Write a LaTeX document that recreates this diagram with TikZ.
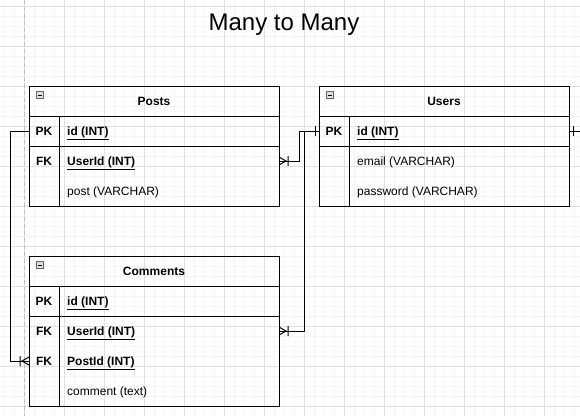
\documentclass[tikz,border=0pt]{standalone}
\usepackage{fontspec}
\setmainfont{Liberation Sans}
\usetikzlibrary{positioning, calc}
\definecolor{MinorGrid}{rgb}{0.955, 0.955, 0.955}
\definecolor{MajorGrid}{rgb}{0.88, 0.88, 0.88}
\definecolor{PageLine}{rgb}{0.75, 0.75, 0.75}
\newcommand{\keyf}[1]{\textbf{\underline{#1}}}
\newcommand{\cell}{\fontsize{12}{14}\selectfont}

\begin{document}
\begin{tikzpicture}[
    x=1pt, y=-1pt,
    font=\cell,
    tbl/.style={draw, line width=1pt, minimum width=250pt, inner sep=0pt,
        outer sep=0pt, anchor=north west},
    head/.style={draw, line width=1pt, minimum width=250pt, minimum height=30pt,
        inner sep=0pt, outer sep=0pt, anchor=north west, font=\cell\bfseries,
        text height=8.6pt, text depth=0pt},
    row/.style={minimum width=250pt, minimum height=30pt, inner sep=0pt,
        outer sep=0pt, anchor=north west},
    rule/.style={line width=1pt},
    keycol/.style={font=\cell\bfseries, inner sep=0pt, text height=8.6pt, text depth=0pt},
    field/.style={anchor=west, inner sep=0pt, text height=8.6pt, text depth=0pt},
    fold/.style={draw=black!60, fill=black!12, minimum size=7pt, inner sep=0pt},
    conn/.style={line width=1pt},
    crow/.pic={\draw[conn] (0,-4) -- (7,0) -- (0,4) (9,-5) -- (9,5);},
    onebar/.pic={\draw[conn] (4,-5) -- (4,5);}
]

% background and grid
\fill[white] (0,0) rectangle (580,416);
\useasboundingbox (0,0) rectangle (580,416);
\foreach \gx in {4,14,...,574} \draw[MinorGrid, line width=1pt] (\gx,0) -- (\gx,416);
\foreach \gy in {6,16,...,406} \draw[MinorGrid, line width=1pt] (0,\gy) -- (580,\gy);
\foreach \gx in {24,64,...,564} \draw[MajorGrid, line width=1pt] (\gx,0) -- (\gx,416);
\foreach \gy in {6,46,...,406} \draw[MajorGrid, line width=1pt] (0,\gy) -- (580,\gy);
\draw[PageLine, line width=1pt, dash pattern=on 4pt off 3pt] (24,0) -- (24,416);

\node[font=\fontsize{24}{28}\selectfont, anchor=base] (title) at (284,30) {Many to Many};

% Posts
\node[tbl, minimum height=120pt] (posts) at (29,86) {};
\node[head] (posts-h) at (29,86) {Posts};
\node[fold] at ([shift={(10.5pt,-9pt)}]posts-h.north west) {\rule{4pt}{0.8pt}};
\node[row] (posts-id) at (29,116) {};
\node[row] (posts-uid) at (29,146) {};
\node[row] (posts-txt) at (29,176) {};
\draw[rule] (posts-id.south west) -- (posts-id.south east);
\draw[rule] ([xshift=30pt]posts-id.north west) -- ([xshift=30pt]posts.south west);
\node[keycol] at ([xshift=15pt]posts-id.west) {PK};
\node[keycol] at ([xshift=15pt]posts-uid.west) {FK};
\node[field] at ([xshift=38pt]posts-id.west) {\keyf{id (INT)}};
\node[field] at ([xshift=38pt]posts-uid.west) {\keyf{UserId (INT)}};
\node[field] at ([xshift=38pt]posts-txt.west) {post (VARCHAR)};

% Users
\node[tbl, minimum height=120pt] (users) at (319,86) {};
\node[head] (users-h) at (319,86) {Users};
\node[fold] at ([shift={(10.5pt,-9pt)}]users-h.north west) {\rule{4pt}{0.8pt}};
\node[row] (users-id) at (319,116) {};
\node[row] (users-mail) at (319,146) {};
\node[row] (users-pw) at (319,176) {};
\draw[rule] (users-id.south west) -- (users-id.south east);
\draw[rule] ([xshift=30pt]users-id.north west) -- ([xshift=30pt]users.south west);
\node[keycol] at ([xshift=15pt]users-id.west) {PK};
\node[field] at ([xshift=38pt]users-id.west) {\keyf{id (INT)}};
\node[field] at ([xshift=38pt]users-mail.west) {email (VARCHAR)};
\node[field] at ([xshift=38pt]users-pw.west) {password (VARCHAR)};

% Comments
\node[tbl, minimum height=150pt] (comments) at (29,256) {};
\node[head] (comments-h) at (29,256) {Comments};
\node[fold] at ([shift={(10.5pt,-9pt)}]comments-h.north west) {\rule{4pt}{0.8pt}};
\node[row] (comments-id) at (29,286) {};
\node[row] (comments-uid) at (29,316) {};
\node[row] (comments-pid) at (29,346) {};
\node[row] (comments-txt) at (29,376) {};
\draw[rule] (comments-id.south west) -- (comments-id.south east);
\draw[rule] ([xshift=30pt]comments-id.north west) -- ([xshift=30pt]comments.south west);
\node[keycol] at ([xshift=15pt]comments-id.west) {PK};
\node[keycol] at ([xshift=15pt]comments-uid.west) {FK};
\node[keycol] at ([xshift=15pt]comments-pid.west) {FK};
\node[field] at ([xshift=38pt]comments-id.west) {\keyf{id (INT)}};
\node[field] at ([xshift=38pt]comments-uid.west) {\keyf{UserId (INT)}};
\node[field] at ([xshift=38pt]comments-pid.west) {\keyf{PostId (INT)}};
\node[field] at ([xshift=38pt]comments-txt.west) {comment (text)};

% relations
\coordinate (offpage) at (580,131);
\draw[conn] (posts-id.west) -- ++(-19,0) |- (comments-pid.west);
\pic[xscale=-1] at (comments-pid.west) {crow};
\draw[conn] (users-id.west) -- ++(-20,0) |- (posts-uid.east);
\pic at (posts-uid.east) {crow};
\draw[conn] (users-id.west) -- ++(-15,0) |- (comments-uid.east);
\pic at (comments-uid.east) {crow};
\pic[xscale=-1] at (users-id.west) {onebar};
\draw[conn] (users-id.east) -- (offpage);
\pic at (users-id.east) {onebar};

\end{tikzpicture}
\end{document}
